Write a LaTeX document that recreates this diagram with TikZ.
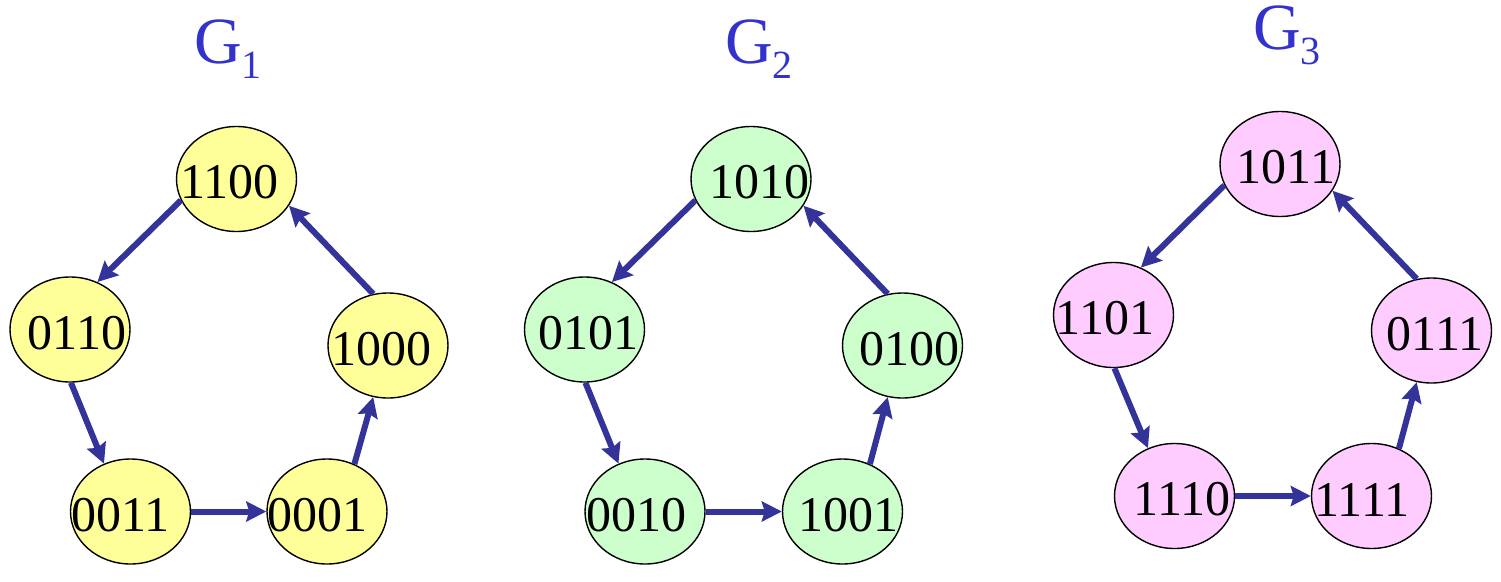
\documentclass[tikz,border=0pt]{standalone}
\usepackage{fontspec}
\setmainfont{Liberation Serif}
\usetikzlibrary{shapes.geometric,arrows.meta}
\definecolor{arrowblue}{RGB}{51,51,153}
\definecolor{titleblue}{RGB}{51,51,204}
\definecolor{yel}{RGB}{255,255,153}
\definecolor{grn}{RGB}{204,255,204}
\definecolor{pnk}{RGB}{255,204,255}
\tikzset{
  st/.style={ellipse, draw=black, line width=1.4pt, minimum width=120pt, minimum height=105pt, inner sep=0pt},
  lb/.style={font=\fontsize{50}{54}\selectfont, inner sep=0pt, yshift=-3.5pt},
  ttl/.style={anchor=base west, inner sep=0pt, text=titleblue, font=\fontsize{66}{70}\selectfont},
  arr/.style={draw=arrowblue, line width=6pt, -{Stealth[length=20pt,width=20pt,inset=3pt]}}
}
\newcommand{\subsc}[1]{\raisebox{-15pt}{\fontsize{40}{44}\selectfont #1}}
\begin{document}
\begin{tikzpicture}[x=1pt,y=1pt]
\useasboundingbox (0,0) rectangle (1501,-581);
% titles
\node[ttl] (t1) at (194,-63) {G\subsc{1}};
\node[ttl] (t2) at (725,-63) {G\subsc{2}};
\node[ttl] (t3) at (1253,-49) {G\subsc{3}};
% G1
\node[st, fill=yel, label={[lb,xshift=-7pt]center:1100}] (a1) at (236.5,-179) {};
\node[st, fill=yel, label={[lb,xshift=7pt]center:0110}] (b1) at (70,-329.5) {};
\node[st, fill=yel, label={[lb,xshift=-10pt]center:0011}] (c1) at (130.5,-511.5) {};
\node[st, fill=yel, label={[lb,xshift=-10pt]center:0001}] (d1) at (327,-511.5) {};
\node[st, fill=yel, label={[lb,xshift=-7pt]center:1000}] (e1) at (388,-345.5) {};
% G2
\node[st, fill=grn, label={[lb,xshift=8pt]center:1010}] (a2) at (751,-179) {};
\node[st, fill=grn, label={[lb,xshift=3.5pt]center:0101}] (b2) at (584.5,-329.5) {};
\node[st, fill=grn, label={[lb,xshift=-9pt]center:0010}] (c2) at (645,-511.5) {};
\node[st, fill=grn, label={[lb,xshift=6pt]center:1001}] (d2) at (842.5,-511.5) {};
\node[st, fill=grn, label={[lb,xshift=6.5pt]center:0100}] (e2) at (902.5,-345.5) {};
% G3
\node[st, fill=pnk, label={[lb,xshift=6pt]center:1011}] (a3) at (1280,-164) {};
\node[st, fill=pnk, label={[lb,xshift=-8.5pt]center:1101}] (b3) at (1113.5,-315) {};
\node[st, fill=pnk, label={[lb,xshift=7.5pt]center:1110}] (c3) at (1174.5,-496) {};
\node[st, fill=pnk, label={[lb,xshift=-9.5pt]center:1111}] (d3) at (1371.5,-496) {};
\node[st, fill=pnk, label={[lb,xshift=3.5pt]center:0111}] (e3) at (1431.5,-330.5) {};
% arrows
\foreach \g in {1,2,3}{
  \draw[arr] (a\g.201) -- (b\g.60);
  \draw[arr] (b\g.271) -- (c\g.119.5);
  \draw[arr] (c\g.0) -- (d\g.180);
  \draw[arr] (d\g.60.5) -- (e\g.254);
  \draw[arr] (e\g.106) -- (a\g.333);
}
\end{tikzpicture}
\end{document}
